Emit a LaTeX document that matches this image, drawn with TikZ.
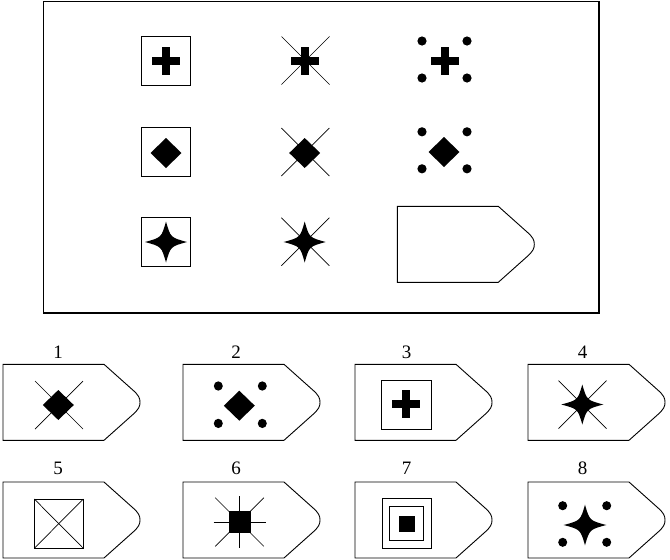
\documentclass[tikz,border=0pt]{standalone}
\usepackage{fontspec}
\setmainfont{Liberation Serif}
\begin{document}
\begin{tikzpicture}[x=1pt,y=-1pt,
  outline/.style={draw=black,line width=0.95pt},
  thinline/.style={draw=black,line width=0.7pt},
  numlabel/.style={font=\fontsize{19}{22}\selectfont,inner sep=0pt},
  plusmark/.pic={\fill (-14,-4) rectangle (14,4); \fill (-4,-14) rectangle (4,14);},
  diamondmark/.pic={\fill (15.5,0) -- (0,15) -- (-15.5,0) -- (0,-15) -- cycle;},
  starmark/.pic={\fill (0,-20.5) .. controls (4.5,-4.5) .. (21,0) .. controls (4.5,4.5) .. (0,20.5)
     .. controls (-4.5,4.5) .. (-21,0) .. controls (-4.5,-4.5) .. (0,-20.5) -- cycle;},
  xlines/.pic={\draw[thinline] (-24,-24) -- (24,24); \draw[thinline] (-24,24) -- (24,-24);},
  fourdots/.pic={\foreach \sx in {-1,1}{\foreach \sy in {-1,1}{\fill (22.5*\sx,18.5*\sy) circle (4.6);}}},
  framebox/.pic={\draw[outline] (-24.5,-24.5) rectangle (24.5,24.5);},
  tagshape/.pic={\draw[line width=0.9pt] (0,0) -- (101,0) -- (129,25)
     .. controls (136,31) and (137,34) .. (137,38)
     .. controls (137,42) and (136,45) .. (129,51) -- (101,76) -- (0,76) -- cycle;}
]
\useasboundingbox (0,0) rectangle (670,560);
% matrix frame
\draw[line width=1.2pt] (43.3,1.8) rectangle (599,313);
% row 1
\coordinate (m11) at (166.2,60.5);
\pic at (m11) {framebox}; \pic at (166,61) {plusmark};
\coordinate (m12) at (305.5,60.5);
\pic at (m12) {xlines}; \pic at (305,61) {plusmark};
\coordinate (m13) at (444.5,59.5);
\pic at (m13) {fourdots}; \pic at (444.5,60.5) {plusmark};
% row 2
\coordinate (m21) at (166.2,152);
\pic at (m21) {framebox}; \pic at (166,153) {diamondmark};
\coordinate (m22) at (305.3,152);
\pic at (m22) {xlines}; \pic at (304.7,153) {diamondmark};
\coordinate (m23) at (444.5,150.3);
\pic at (m23) {fourdots}; \pic at (444,152) {diamondmark};
% row 3
\coordinate (m31) at (166.2,242.3);
\pic at (m31) {framebox}; \pic at (166,242) {starmark};
\coordinate (m32) at (305.3,241.7);
\pic at (m32) {xlines}; \pic at (304.7,242) {starmark};
\coordinate (slot) at (397.3,206.3);
\pic at (slot) {tagshape};
% answer options
\foreach \nm/\lx/\ty/\nx/\nyy in {1/3/364.3/58/352, 2/183/364.3/236/352, 3/355/364.3/406.7/352, 4/528/364.3/582.7/352,
  5/3/482/58/468, 6/183/482/236/468, 7/355/482/406.7/468, 8/528/482/582.7/468}{
  \coordinate (opt\nm) at (\lx,\ty);
  \pic at (opt\nm) {tagshape};
  \node[numlabel] (lab\nm) at (\nx,\nyy) {\nm};
}
% option 1
\coordinate (c1) at (59,405);
\pic at (c1) {xlines}; \pic at (58.3,405) {diamondmark};
% option 2
\coordinate (c2) at (240.3,404.7);
\pic[yscale=18.7/18.5, xscale=22/22.5] at (c2) {fourdots}; \pic at (239.3,405.7) {diamondmark};
% option 3
\coordinate (c3) at (406.7,405);
\draw[outline] (381.7,380.7) rectangle (431.7,429.3);
\pic at (406,404) {plusmark};
% option 4
\coordinate (c4) at (582.5,404.7);
\pic at (c4) {xlines}; \pic[yscale=20/20.5] at (582.3,404.5) {starmark};
% option 5
\coordinate (c5) at (58.8,523.7);
\draw[outline] (34.3,499) rectangle (83.3,548.3);
\draw[thinline] (34.3,499) -- (83.3,548.3);
\draw[thinline] (34.3,548.3) -- (83.3,499);
% option 6
\coordinate (c6) at (239.5,522);
\begin{scope}[shift={(c6)}]
  \draw[line width=0.9pt] (-26,0) -- (26,0);
  \draw[line width=0.9pt] (0,-26) -- (0,26);
  \draw[thinline] (-24.3,-24.3) -- (24.3,24.3);
  \draw[thinline] (-24.3,24.3) -- (24.3,-24.3);
  \fill (-11,-11) rectangle (11,11);
\end{scope}
% option 7
\coordinate (c7) at (406.7,523.3);
\draw[outline] (382.3,498.3) rectangle (431,548.3);
\draw[outline] (389.3,506.7) rectangle (423.3,540.7);
\fill (399,516) rectangle (415,531.7);
% option 8
\coordinate (c8) at (584.7,524);
\pic[yscale=18.3/18.5, xscale=22/22.5] at (c8) {fourdots}; \pic[xscale=21.3/21,yscale=20.3/20.5] at (585,525) {starmark};
\end{tikzpicture}
\end{document}
